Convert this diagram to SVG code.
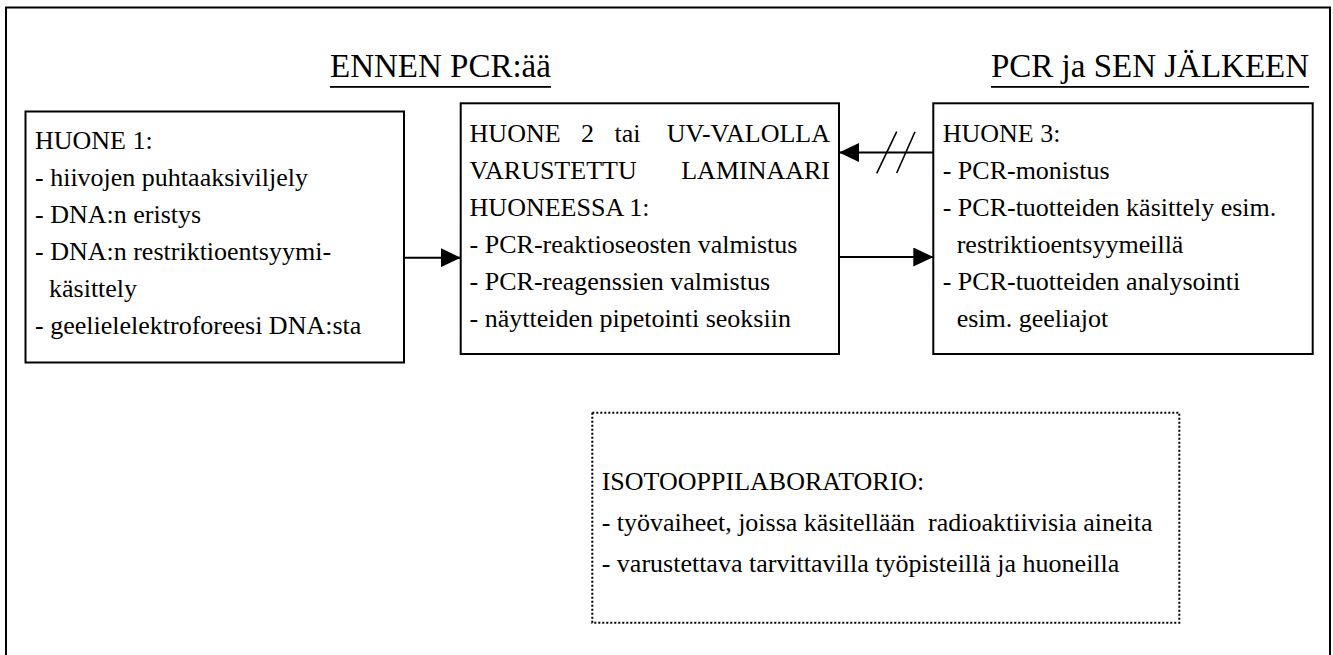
<svg xmlns="http://www.w3.org/2000/svg" width="1333" height="655" viewBox="0 0 1333 655">
<defs>
<style>
text{font-family:"Liberation Serif","Times New Roman",serif;font-size:26px;fill:#000}
.title{font-size:33px}
.box{fill:#fff;stroke:#000;stroke-width:2}
.dot{fill:#fff;stroke:#000;stroke-width:2;stroke-dasharray:2 2}
.conn{stroke:#000;stroke-width:2;fill:none}
.sl{stroke:#000;stroke-width:1.6}
</style>
<marker id="ah" viewBox="0 0 20 19" refX="20" refY="9.5" markerWidth="20" markerHeight="19" markerUnits="userSpaceOnUse" orient="auto">
<path d="M0,0 L20,9.5 L0,19 Z" fill="#000"/>
</marker>
</defs>
<rect x="0" y="0" width="1333" height="655" fill="#fff"/>
<rect id="frame" x="6" y="7.5" width="1324" height="660" fill="none" stroke="#000" stroke-width="2"/>
<g id="titles">
<text class="title" x="330" y="77">ENNEN PCR:ää</text>
<rect x="330" y="86" width="221" height="1.8" fill="#000"/>
<text class="title" x="991" y="77">PCR ja SEN JÄLKEEN</text>
<rect x="991" y="86" width="318" height="1.8" fill="#000"/>
</g>
<g id="room1">
<rect class="box" x="25.5" y="111.5" width="378.5" height="251"/>
<text x="35" y="149">HUONE 1:</text>
<text x="35" y="186">- hiivojen puhtaaksiviljely</text>
<text x="35" y="223">- DNA:n eristys</text>
<text x="35" y="260">- DNA:n restriktioentsyymi-</text>
<text x="49" y="297">käsittely</text>
<text x="35" y="334">- geelielelektroforeesi DNA:sta</text>
</g>
<g id="room2">
<rect class="box" x="460.7" y="103.3" width="378.3" height="250.7"/>
<text x="469.6" y="142">HUONE</text>
<text x="581" y="142">2</text>
<text x="614.5" y="142">tai</text>
<text x="830" y="142" text-anchor="end">UV-VALOLLA</text>
<text x="469.6" y="179">VARUSTETTU</text>
<text x="830" y="179" text-anchor="end">LAMINAARI</text>
<text x="469.6" y="216">HUONEESSA 1:</text>
<text x="469.6" y="253">- PCR-reaktioseosten valmistus</text>
<text x="469.6" y="290">- PCR-reagenssien valmistus</text>
<text x="469.6" y="327">- näytteiden pipetointi seoksiin</text>
</g>
<g id="room3">
<rect class="box" x="933.3" y="103.3" width="379.4" height="250.7"/>
<text x="942.7" y="142.3">HUONE 3:</text>
<text x="942.7" y="179.3">- PCR-monistus</text>
<text x="942.7" y="216.3">- PCR-tuotteiden käsittely esim.</text>
<text x="956.7" y="253.3">restriktioentsyymeillä</text>
<text x="942.7" y="290.3">- PCR-tuotteiden analysointi</text>
<text x="956.7" y="327.3">esim. geeliajot</text>
</g>
<g id="isotope">
<rect class="dot" x="592.3" y="412.7" width="587" height="210"/>
<text x="601.7" y="490">ISOTOOPPILABORATORIO:</text>
<text x="601.7" y="531" xml:space="preserve">- työvaiheet, joissa käsitellään  radioaktiivisia aineita</text>
<text x="601.7" y="572">- varustettava tarvittavilla työpisteillä ja huoneilla</text>
</g>
<g id="connectors">
<line class="conn" x1="404" y1="257.7" x2="460.7" y2="257.7" marker-end="url(#ah)"/>
<line class="conn" x1="839" y1="257" x2="933.3" y2="257" marker-end="url(#ah)"/>
<line class="conn" x1="933.3" y1="152.5" x2="839" y2="152.5" marker-end="url(#ah)"/>
<line class="sl" x1="876.7" y1="173.3" x2="896.7" y2="131.7"/>
<line class="sl" x1="896.7" y1="173" x2="915" y2="131.7"/>
</g>
</svg>
